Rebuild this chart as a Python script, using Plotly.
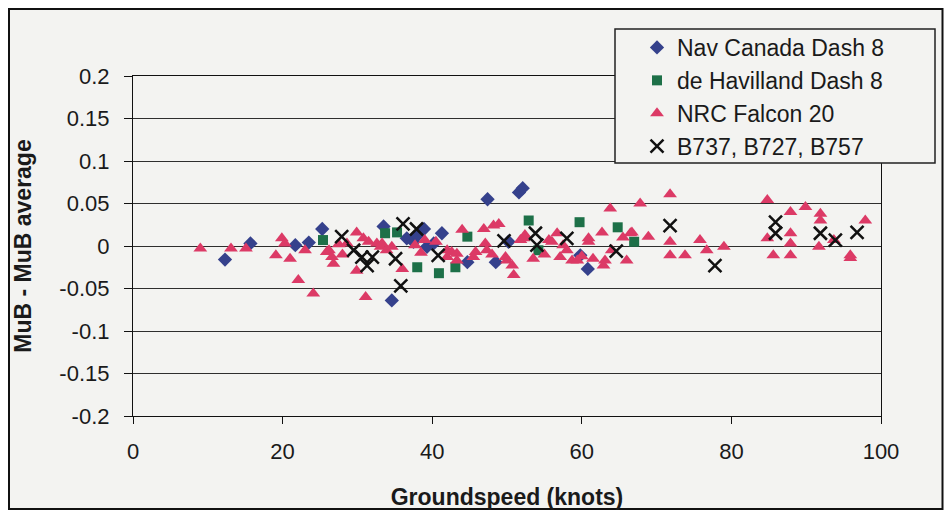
import plotly.graph_objects as go

# ---- data ----
nav_x = [12.3, 15.7, 21.7, 23.5, 25.3, 33.5, 34.6, 36.6, 37.5, 38.9, 39.3, 40.2, 41.3,
         44.7, 47.4, 48.5, 50.2, 51.6, 52.1, 59.8, 60.8, 38.0]
nav_y = [-0.016, 0.003, 0.001, 0.004, 0.020, 0.023, -0.064, 0.009, 0.005, 0.020, -0.001, 0.003, 0.015,
         -0.019, 0.055, -0.019, 0.005, 0.063, 0.068, -0.011, -0.027, 0.012]

dhc_x = [25.4, 33.7, 35.3, 38.0, 40.9, 43.1, 44.7, 52.9, 54.2, 59.7, 64.8, 67.0]
dhc_y = [0.007, 0.015, 0.016, -0.025, -0.032, -0.025, 0.011, 0.030, -0.005, 0.028, 0.022, 0.005]

nrc_x = [9.0, 13.1, 15.1, 19.1, 19.9, 20.3, 21.0, 22.1, 23.0, 24.1, 25.9, 26.2, 26.8, 26.6,
         27.5, 28.0, 28.6, 29.9, 30.8, 29.9, 31.1, 31.5, 32.6, 33.1, 33.9, 36.0, 33.3, 34.6,
         37.7, 38.5, 39.0, 40.5,
         42.0, 42.0, 42.6, 43.3, 43.3, 44.0, 45.5, 45.8, 46.9, 47.1, 47.3, 48.0, 48.2, 48.9,
         49.8, 50.0, 50.7, 50.9, 51.8, 52.2, 52.4, 53.5, 55.0, 55.6, 56.0, 56.7, 57.1, 57.5,
         58.0, 58.7, 59.4, 60.0, 60.9, 60.9, 61.5, 62.7, 62.9, 63.1, 63.8, 64.0, 65.5, 66.0,
         66.5, 66.7, 67.8, 68.9,
         71.8, 71.8, 71.8, 73.8, 75.8, 76.7, 79.0, 84.8, 84.8, 85.6, 87.9, 87.9, 87.9, 87.9,
         89.9, 91.9, 91.9, 91.7, 93.7, 95.9, 95.9, 97.9]
nrc_y = [-0.003, -0.003, -0.003, -0.011, 0.009, 0.003, -0.015, -0.040, -0.005, -0.056, -0.007, -0.005, -0.021, -0.013,
         0.002, -0.010, 0.003, 0.016, 0.009, -0.029, -0.060, 0.005, 0.003, -0.001, -0.005, -0.027, 0.003, -0.001,
         0.001, -0.008, 0.007, 0.005,
         -0.005, -0.013, -0.007, -0.009, -0.017, 0.019, -0.013, -0.007, 0.020, 0.003, -0.005, -0.010, 0.024, 0.026,
         -0.013, -0.017, -0.023, -0.034, 0.007, 0.009, 0.013, -0.015, -0.010, 0.007, 0.005, 0.015, -0.013, 0.001,
         -0.005, -0.017, -0.017, -0.012, 0.005, 0.009, -0.015, 0.016, -0.023, -0.017, 0.044, -0.005, 0.010, -0.017,
         0.015, 0.016, 0.050, 0.011,
         0.061, 0.005, -0.011, -0.011, 0.007, -0.005, -0.001, 0.054, 0.009, -0.011, 0.040, 0.015, 0.003, -0.011,
         0.046, 0.038, 0.030, -0.001, 0.007, -0.011, -0.014, 0.030]

boe_x = [27.9, 29.5, 30.6, 31.3, 32.0, 35.1, 36.1, 35.8, 37.9, 40.8, 49.6, 53.8, 54.0, 58.0,
         64.6, 71.8, 77.8, 85.9, 85.9, 91.9, 93.9, 96.8]
boe_y = [0.011, -0.005, -0.013, -0.023, -0.013, -0.015, 0.026, -0.047, 0.020, -0.011, 0.006, 0.015, 0.001, 0.009,
         -0.006, 0.024, -0.023, 0.028, 0.015, 0.015, 0.007, 0.016]

series_names = ["Nav Canada Dash 8", "de Havilland Dash 8", "NRC Falcon 20", "B737, B727, B757"]

x_tick_vals = [0, 20, 40, 60, 80, 100]
y_tick_vals = [-0.2, -0.15, -0.1, -0.05, 0, 0.05, 0.1, 0.15, 0.2]
y_tick_text = ["-0.2", "-0.15", "-0.1", "-0.05", "0", "0.05", "0.1", "0.15", "0.2"]

x_title = "Groundspeed (knots)"
y_title = "MuB - MuB average"

# ---- figure ----
FONT = "Liberation Sans, Arial, sans-serif"
BG = "#f3f3f1"

fig = go.Figure()
fig.add_trace(go.Scatter(x=nav_x, y=nav_y, mode="markers", name=series_names[0], legendgroup="a",
                         marker=dict(symbol="diamond", size=11, color="#35418c")))
fig.add_trace(go.Scatter(x=dhc_x, y=dhc_y, mode="markers", name=series_names[1], legendgroup="b",
                         marker=dict(symbol="square", size=10, color="#1d7048")))
fig.add_trace(go.Scatter(x=nrc_x, y=nrc_y, mode="markers", name=series_names[2], legendgroup="c",
                         marker=dict(symbol="triangle-up", size=12, color="#dc3a66")))
fig.add_trace(go.Scatter(x=boe_x, y=boe_y, mode="markers", name=series_names[3], legendgroup="d",
                         marker=dict(symbol="x-thin", size=13, color="#111111",
                                     line=dict(width=2.5, color="#111111"))))

# the page body adds an 8 px margin; positions below are in window pixels
OFF = 8
FW, FH = 952 - 2 * OFF, 512 - OFF
PL, PR, PT, PB = 133, 881, 76, 416   # plot area in window pixels

def px_x(px):
    return (px - PL) / (PR - PL)

def px_y(py):
    return (PB - py) / (PB - PT)

shapes = [
    # outer chart border (filled with chart background)
    dict(type="rect", xref="paper", yref="paper",
         x0=px_x(OFF + 1), x1=px_x(OFF + FW - 1.5), y0=px_y(509), y1=px_y(OFF + 1),
         line=dict(color="#111111", width=2), fillcolor=BG, layer="below"),
    # legend box
    dict(type="rect", xref="paper", yref="paper", x0=px_x(615), x1=px_x(935), y0=px_y(163), y1=px_y(29),
         line=dict(color="#222222", width=1.5), fillcolor=BG, layer="above"),
]

fig.update_layout(
    width=FW, height=FH,
    margin=dict(l=PL - OFF, r=FW - (PR - OFF), t=PT - OFF, b=FH - (PB - OFF), autoexpand=False),
    paper_bgcolor="#ffffff", plot_bgcolor=BG,
    font=dict(family=FONT, size=22, color="#1a1a1a"),
    showlegend=True,
    legend=dict(x=px_x(637), y=px_y(26), xanchor="left", yanchor="top",
                bgcolor="rgba(0,0,0,0)", borderwidth=0, tracegroupgap=0,
                font=dict(size=23, family=FONT, color="#1a1a1a"), itemwidth=30),
    shapes=shapes,
    xaxis=dict(range=[0, 100], tickvals=x_tick_vals, showgrid=False, zeroline=False,
               showline=True, linecolor="#111111", linewidth=1.2, mirror=True, automargin=False,
               ticks="outside", ticklen=7, tickcolor="#111111", tickwidth=1.2,
               ticklabelstandoff=8,
               title=dict(text=x_title, font=dict(size=23, family=FONT, color="#1a1a1a", weight="bold"),
                          standoff=26)),
    yaxis=dict(range=[-0.2, 0.2], tickvals=y_tick_vals, ticktext=y_tick_text,
               showgrid=True, gridcolor="#2e2e2e", gridwidth=1.2, zeroline=False,
               showline=True, linecolor="#111111", linewidth=1.2, mirror=True, automargin=False,
               ticks="outside", ticklen=8, tickcolor="#111111", tickwidth=1.2,
               ticklabelstandoff=10,
               title=dict(text=y_title, font=dict(size=23, family=FONT, color="#1a1a1a", weight="bold"),
                          standoff=21)),
)

fig.write_html("out.html")
